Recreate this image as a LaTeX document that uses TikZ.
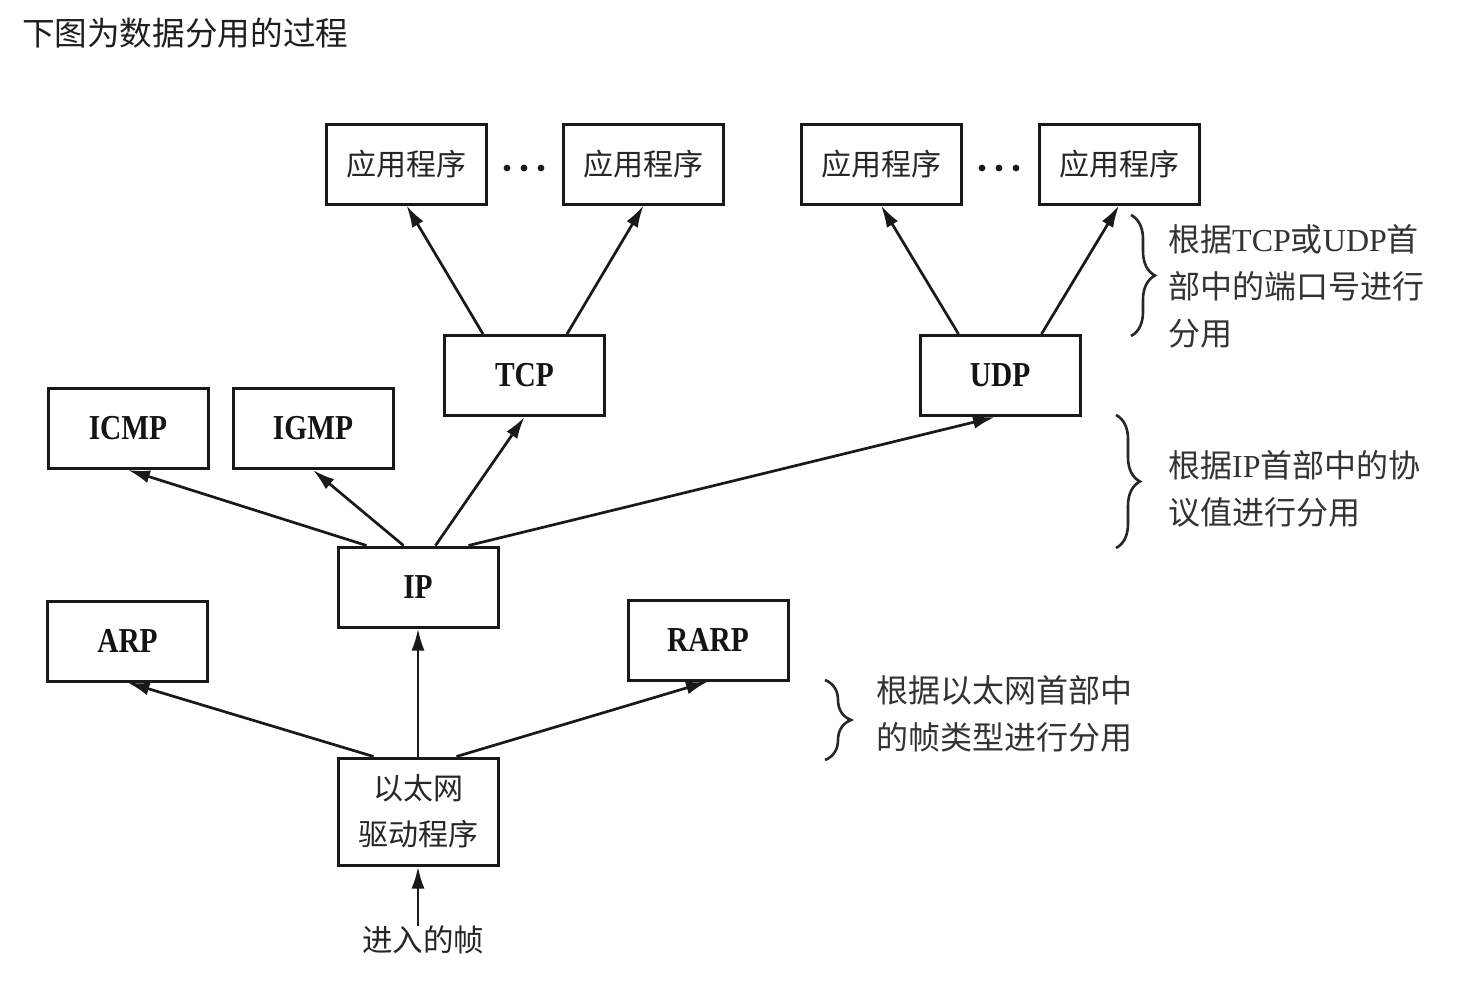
\documentclass[tikz,border=0pt]{standalone}
\usepackage{fontspec}
\usepackage{graphicx}
\setmainfont{Liberation Serif}
\newfontfamily\cjk{Noto Sans CJK SC}
\usetikzlibrary{arrows.meta,decorations.pathreplacing}
\newcommand\protolbl[1]{\scalebox{0.84}[1]{#1}}
\newcommand\latn[1]{{\rmfamily #1}}
\begin{document}
\begin{tikzpicture}[x=1pt,y=-1pt,
  box/.style={draw=black!90,line width=3pt,minimum width=160pt,minimum height=80pt,inner sep=0pt,
    font=\cjk\fontsize{30}{46}\selectfont,text=black!85},
  proto/.style={box,font=\bfseries\fontsize{35}{40}\selectfont,text=black!92},
  arr/.style={line width=2.7pt,draw=black!90,-{Latex[length=22pt,width=13pt]}},
  brc/.style={decorate,decoration={brace,amplitude=#1},line width=2.6pt,draw=black!85},
  note/.style={anchor=west,align=left,font=\cjk\fontsize{32}{47}\selectfont,text=black!80,inner sep=0pt}
]
\useasboundingbox[fill=white] (0,0) rectangle (1472,993);

\node[anchor=west,font=\cjk\fontsize{32.6}{38}\selectfont,text=black!88,inner sep=0pt] (title) at (22,33) {下图为数据分用的过程};

\node[box] (app1) at (406.5,164) {应用程序};
\node[box] (app2) at (643.5,164) {应用程序};
\node[box] (app3) at (881,164) {应用程序};
\node[box] (app4) at (1119,164) {应用程序};

\foreach \x in {507,524,541} \fill[black!90] (\x,168) circle (3.4pt);
\foreach \x in {982,999,1016} \fill[black!90] (\x,168) circle (3.4pt);

\node[proto] (tcp) at (524.5,375.5) {\protolbl{TCP}};
\node[proto] (udp) at (1000,375.5) {\protolbl{UDP}};
\node[proto] (icmp) at (128,428.5) {\protolbl{ICMP}};
\node[proto] (igmp) at (313,428.5) {\protolbl{IGMP}};
\node[proto] (ip) at (418,587) {\protolbl{IP}};
\node[proto] (arp) at (127.5,641) {\protolbl{ARP}};
\node[proto] (rarp) at (708,640) {\protolbl{RARP}};
\node[box,minimum height=107pt,align=center] (eth) at (418,811.5) {以太网\\驱动程序};
\node[font=\cjk\fontsize{30.5}{36}\selectfont,text=black!85,inner sep=0pt] (in) at (423,940) {进入的帧};

% arrows
\draw[arr] ([xshift=40pt]tcp.north west) -- (app1.south);
\draw[arr] ([xshift=-39pt]tcp.north east) -- (app2.south);
\draw[arr] ([xshift=40pt]udp.north west) -- (app3.south);
\draw[arr] ([xshift=-40pt]udp.north east) -- (app4.south);

\draw[arr] ([xshift=30pt]ip.north west) -- (icmp.south);
\draw[arr] ([xshift=67pt]ip.north west) -- (igmp.south);
\draw[arr] ([xshift=99pt]ip.north west) -- (tcp.south);
\draw[arr] ([xshift=132pt]ip.north west) -- ([xshift=-5pt]udp.south);

\draw[arr] (eth.north) -- (ip.south);
\draw[arr] ([xshift=37pt]eth.north west) -- (arp.south);
\draw[arr] ([xshift=120pt]eth.north west) -- (rarp.south);
\draw[arr] (eth.south |- in.north) -- (eth.south);

% braces
\draw[brc=24pt] (1131,215) -- (1131,336);
\draw[brc=24pt] (1116,415) -- (1116,548);
\draw[brc=26pt] (825,680) -- (825,760);

\node[note] (n1) at (1168,286.5) {根据\latn{TCP}或\latn{UDP}首\\部中的端口号进行\\分用};
\node[note] (n2) at (1168,489) {根据\latn{IP}首部中的协\\议值进行分用};
\node[note] (n3) at (876,713.5) {根据以太网首部中\\的帧类型进行分用};
\end{tikzpicture}
\end{document}
